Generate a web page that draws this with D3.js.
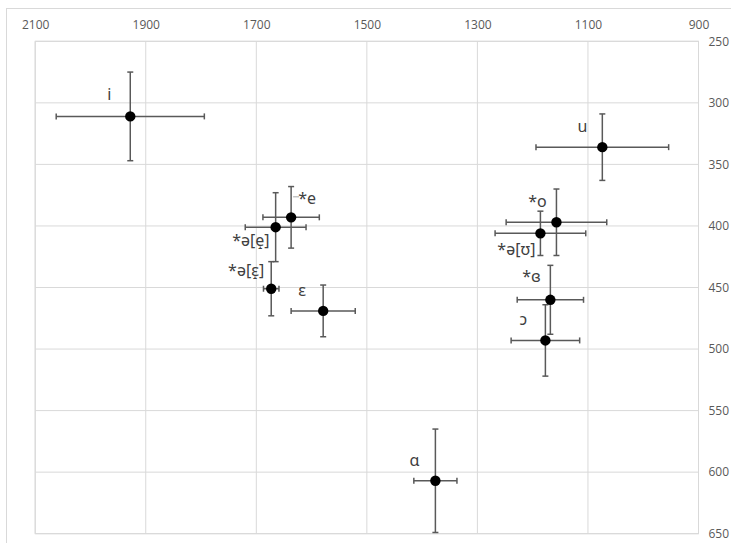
<!DOCTYPE html>
<html><head><meta charset="utf-8">
<script src="https://cdn.jsdelivr.net/npm/d3@7/dist/d3.min.js"></script>
<style>body{margin:0;background:#fff;overflow:hidden}</style>
</head><body>
<svg id="c" width="731" height="543"></svg>
<script>
// ---- data ----
const labels = ["i", "u", "*e", "*o", "*ə[e̝]", "*ə[ʊ]", "*ə[ɛ̝]", "ɛ", "*ɞ", "ɔ", "ɑ"];
const f2 =     [1928, 1074, 1637, 1157, 1665, 1186, 1673, 1579, 1168, 1177, 1376];
const f1 =     [311,  336,  393,  397,  401,  406,  451,  469,  460,  493,  607];
const f2Err =  [134,  120,  51,   91,   55,   82,   14,   58,   60,   62,   39];
const f1Err =  [36,   27,   25,   27,   28,   18,   22,   21,   28,   29,   42];
const xTicks = [2100, 1900, 1700, 1500, 1300, 1100, 900];
const yTicks = [250, 300, 350, 400, 450, 500, 550, 600, 650];

// ---- layout (label placement, pixels relative to point) ----
const labelLayout = [
  {dx:-21, dy:-22, anchor:"middle"},
  {dx:-20, dy:-21, anchor:"middle"},
  {dx:16,  dy:-19, anchor:"middle"},
  {dx:-19, dy:-21, anchor:"middle"},
  {dx:-6,  dy:13,  anchor:"end"},
  {dx:-5,  dy:16,  anchor:"end"},
  {dx:-7,  dy:-19, anchor:"end"},
  {dx:-21, dy:-21, anchor:"middle"},
  {dx:-19, dy:-24, anchor:"middle"},
  {dx:-22, dy:-21, anchor:"middle"},
  {dx:-21, dy:-21, anchor:"middle"}
];

const svg = d3.select("#c");
const L = 35.2, R = 698.5, T = 41.3, B = 533.7;
const x = d3.scaleLinear().domain([2100, 900]).range([L, R]);
const y = d3.scaleLinear().domain([250, 650]).range([T, B]);
const grid = "#d9d9d9";

// outer chart border
svg.append("rect").attr("x", 6.5).attr("y", 8.5).attr("width", 800).attr("height", 600)
  .attr("fill", "none").attr("stroke", grid);

// gridlines
svg.append("g").selectAll("line").data(xTicks).join("line")
  .attr("x1", d => x(d)).attr("x2", d => x(d)).attr("y1", T).attr("y2", B)
  .attr("stroke", grid);
svg.append("g").selectAll("line").data(yTicks).join("line")
  .attr("x1", L).attr("x2", R).attr("y1", d => y(d)).attr("y2", d => y(d))
  .attr("stroke", grid);
svg.append("rect").attr("x", L).attr("y", T).attr("width", R - L).attr("height", B - T)
  .attr("fill", "none").attr("stroke", grid);

// axes
const ax = svg.append("g").attr("transform", `translate(0,${T})`)
  .call(d3.axisTop(x).tickValues(xTicks).tickSize(0).tickPadding(12).tickFormat(d3.format("d")));
const ay = svg.append("g").attr("transform", `translate(${R},0)`)
  .call(d3.axisRight(y).tickValues(yTicks).tickSize(0).tickPadding(10).tickFormat(d3.format("d")));
[ax, ay].forEach(a => {
  a.select(".domain").remove();
  a.selectAll("text").attr("fill", "#595959").style("font-family", "'Open Sans', sans-serif").style("font-size", "12px");
});

const idx = d3.range(labels.length);
const eb = "#595959", cap = 3;
const g = svg.append("g").attr("stroke", eb).attr("stroke-width", 1.5);
idx.forEach(i => {
  const cx = x(f2[i]), cy = y(f1[i]);
  const x0 = x(f2[i] + f2Err[i]), x1 = x(f2[i] - f2Err[i]);
  const y0 = y(f1[i] - f1Err[i]), y1 = y(f1[i] + f1Err[i]);
  g.append("line").attr("x1", x0).attr("x2", x1).attr("y1", cy).attr("y2", cy);
  g.append("line").attr("x1", x0).attr("x2", x0).attr("y1", cy - cap).attr("y2", cy + cap);
  g.append("line").attr("x1", x1).attr("x2", x1).attr("y1", cy - cap).attr("y2", cy + cap);
  g.append("line").attr("x1", cx).attr("x2", cx).attr("y1", y0).attr("y2", y1);
  g.append("line").attr("x1", cx - cap).attr("x2", cx + cap).attr("y1", y0).attr("y2", y0);
  g.append("line").attr("x1", cx - cap).attr("x2", cx + cap).attr("y1", y1).attr("y2", y1);
});

// leader line for *e
svg.append("line").attr("x1", x(f2[2]) + 2).attr("x2", x(f2[2]) + 8)
  .attr("y1", y(f1[2]) - 20.5).attr("y2", y(f1[2]) - 20.5)
  .attr("stroke", "#a6a6a6").attr("stroke-width", 1);

// points
svg.append("g").selectAll("circle").data(idx).join("circle")
  .attr("cx", i => x(f2[i])).attr("cy", i => y(f1[i])).attr("r", 5.2).attr("fill", "#000");

// labels
svg.append("g").selectAll("text").data(idx).join("text")
  .attr("x", i => x(f2[i]) + labelLayout[i].dx)
  .attr("y", i => y(f1[i]) + labelLayout[i].dy)
  .attr("text-anchor", i => labelLayout[i].anchor)
  .attr("dominant-baseline", "central")
  .attr("fill", "#404040")
  .style("font-family", "'Noto Sans', 'DejaVu Sans', sans-serif")
  .style("font-size", "16px")
  .text(i => labels[i]);
</script>
</body></html>
